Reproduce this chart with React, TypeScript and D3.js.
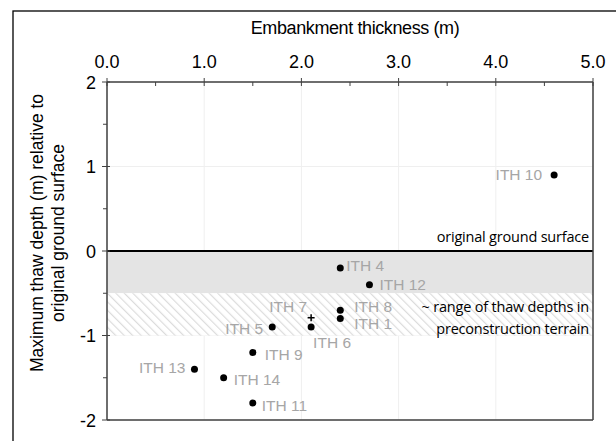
import React from "react";
import * as d3 from "d3";

const names = ["ITH 10", "ITH 4", "ITH 12", "ITH 8", "ITH 1", "ITH 7", "ITH 6", "ITH 5", "ITH 9", "ITH 13", "ITH 14", "ITH 11"];
const thickness = [4.6, 2.4, 2.7, 2.4, 2.4, 2.1, 2.1, 1.7, 1.5, 0.9, 1.2, 1.5];
const thawDepth = [0.9, -0.2, -0.4, -0.7, -0.8, -0.79, -0.9, -0.9, -1.2, -1.4, -1.5, -1.8];
const markers = ["dot", "dot", "dot", "dot", "dot", "plus", "dot", "dot", "dot", "dot", "dot", "dot"];
const xTicks = [0, 1, 2, 3, 4, 5];
const yTicks = [-2, -1, 0, 1, 2];
const xMinor = [0.5, 1.5, 2.5, 3.5, 4.5];
const yMinor = [-1.5, -0.5, 0.5, 1.5];

// label placement relative to the marker: [dx, dy, anchor]
const labelPlace: [number, number, string][] = [
  [-12, 0, "end"],
  [6, -2, "start"],
  [10, 0, "start"],
  [14, -4, "start"],
  [14, 5, "start"],
  [-4, -11, "end"],
  [2, 15, "start"],
  [-9, 1, "end"],
  [12, 2, "start"],
  [-9, -2, "end"],
  [10, 2, "start"],
  [9, 2, "start"],
];

export default function App() {
  const L = 107, R = 593, T = 82, B = 420;
  const x = d3.scaleLinear().domain([0, 5]).range([L, R]);
  const y = d3.scaleLinear().domain([-2, 2]).range([B, T]);
  const labelFont = "'Liberation Sans', Arial, sans-serif";
  const noteFont = "'Open Sans', sans-serif";
  return (
    <svg width={616} height={441} style={{ position: "absolute", left: 0, top: 0 }}>
      <defs>
        <pattern id="hatch" patternUnits="userSpaceOnUse" width={6} height={6} patternTransform="rotate(-45)">
          <rect width={6} height={6} fill="#ffffff" />
          <line x1={0} y1={0} x2={0} y2={6} stroke="#dcdcdc" strokeWidth={2.4} />
        </pattern>
      </defs>
      <rect x={0} y={0} width={616} height={441} fill="#fff" />
      <rect x={13} y={11} width={620} height={450} fill="none" stroke="#000" strokeWidth={1.3} />
      {xTicks.map((t) => (
        <line key={"gx" + t} x1={x(t)} x2={x(t)} y1={T} y2={B} stroke="#efefef" strokeWidth={1} />
      ))}
      {yTicks.map((t) => (
        <line key={"gy" + t} x1={L} x2={R} y1={y(t)} y2={y(t)} stroke="#efefef" strokeWidth={1} />
      ))}
      <rect x={L} y={y(0)} width={R - L} height={y(-0.5) - y(0)} fill="#e4e4e4" />
      <rect x={L} y={y(-0.5)} width={R - L} height={y(-1) - y(-0.5)} fill="url(#hatch)" />
      <line x1={L} x2={R} y1={y(0)} y2={y(0)} stroke="#000" strokeWidth={2} />
      <line x1={L} x2={R} y1={T} y2={T} stroke="#404040" strokeWidth={1.5} />
      <line x1={L} x2={R} y1={B} y2={B} stroke="#404040" strokeWidth={1.5} />
      <line x1={L} x2={L} y1={T} y2={B} stroke="#404040" strokeWidth={1.5} />
      <line x1={R} x2={R} y1={T} y2={B} stroke="#404040" strokeWidth={1.5} />
      {xTicks.map((t) => (
        <g key={"xt" + t}>
          <line x1={x(t)} x2={x(t)} y1={T - 4} y2={T + 4} stroke="#404040" />
          <text x={x(t)} y={T - 14} textAnchor="middle" fontFamily={labelFont} fontSize={18} fill="#000">
            {t.toFixed(1)}
          </text>
        </g>
      ))}
      {xMinor.map((t) => (
        <line key={"xm" + t} x1={x(t)} x2={x(t)} y1={T} y2={T + 4} stroke="#404040" />
      ))}
      {yTicks.map((t) => (
        <g key={"yt" + t}>
          <line x1={L - 5} x2={L + 3} y1={y(t)} y2={y(t)} stroke="#404040" />
          <text x={L - 11} y={y(t) + 6.5} textAnchor="end" fontFamily={labelFont} fontSize={18} fill="#000">
            {t}
          </text>
        </g>
      ))}
      {yMinor.map((t) => (
        <line key={"ym" + t} x1={L - 4} x2={L} y1={y(t)} y2={y(t)} stroke="#404040" />
      ))}
      <text x={355} y={34} textAnchor="middle" fontFamily={labelFont} fontSize={18} letterSpacing={-0.4} fill="#000">
        Embankment thickness (m)
      </text>
      <g transform="translate(43,233) rotate(-90)">
        <text x={0} y={0} textAnchor="middle" fontFamily={labelFont} fontSize={17.5} fill="#000">
          Maximum thaw depth (m) relative to
        </text>
        <text x={0} y={21} textAnchor="middle" fontFamily={labelFont} fontSize={17.5} fill="#000">
          original ground surface
        </text>
      </g>
      <text x={R - 4} y={y(0) - 9} textAnchor="end" fontFamily={noteFont} fontSize={14.5} letterSpacing={-0.2} fill="#000">
        original ground surface
      </text>
      <text x={R - 4} y={y(-0.7) + 2} textAnchor="end" fontFamily={noteFont} fontSize={14.5} letterSpacing={-0.2} fill="#000">
        ~ range of thaw depths in
      </text>
      <text x={R - 4} y={y(-0.9) + 7} textAnchor="end" fontFamily={noteFont} fontSize={14.5} letterSpacing={-0.2} fill="#000">
        preconstruction terrain
      </text>
      {names.map((n, i) => {
        const px = x(thickness[i]);
        const py = y(thawDepth[i]);
        const [dx, dy, anchor] = labelPlace[i];
        return (
          <g key={n}>
            {markers[i] === "dot" ? (
              <circle cx={px} cy={py} r={3.5} fill="#000" />
            ) : (
              <path d={`M${px - 3.5},${py}H${px + 3.5}M${px},${py - 3.5}V${py + 3.5}`} stroke="#000" strokeWidth={1.5} />
            )}
            <text x={px + dx} y={py + dy + 5.5} textAnchor={anchor} fontFamily={labelFont} fontSize={15.5} fill="#a6a6a6">
              {n}
            </text>
          </g>
        );
      })}
    </svg>
  );
}
